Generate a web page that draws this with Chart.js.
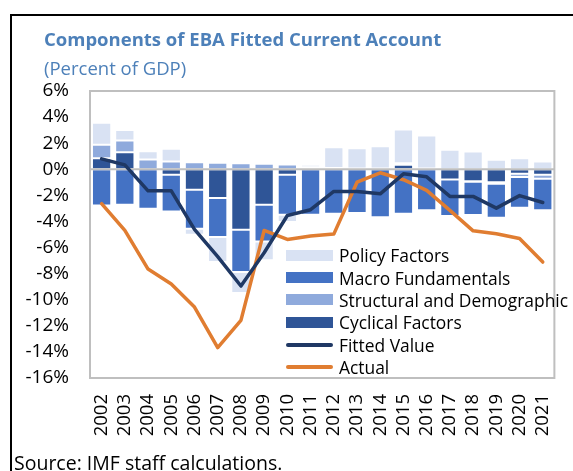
<!DOCTYPE html>
<html>
<head>
<meta charset="utf-8">
<script src="https://cdn.jsdelivr.net/npm/chart.js@4/dist/chart.umd.min.js"></script>
<style>
  body { margin: 0; width: 573px; height: 471px; overflow: hidden; background: #fff; font-family: 'Open Sans', sans-serif; }
  #frame { position: absolute; left: 10px; top: 14px; width: 600px; height: 500px; border-top: 2px solid #000; border-left: 2px solid #000; }
  #title { position: absolute; left: 44px; top: 28px; font-size: 18.5px; font-weight: 700; color: #4D80B9; white-space: nowrap; line-height: 1.2; }
  #subtitle { position: absolute; left: 44px; top: 57px; font-size: 18.5px; color: #4D80B9; white-space: nowrap; line-height: 1.2; }
  #source { position: absolute; left: 14px; top: 451px; font-size: 19.5px; color: #000; white-space: nowrap; line-height: 1.2; }
  #chart { position: absolute; left: 0; top: 0; }
  #legend { position: absolute; left: 286px; top: 244px; font-size: 17.4px; color: #000; }
  .row { height: 22.4px; display: flex; align-items: center; white-space: nowrap; }
  .sw { width: 47px; margin-right: 6px; }
</style>
</head>
<body>
<canvas id="chart" width="573" height="471"></canvas>
<div id="frame"></div>
<div id="title">Components of EBA Fitted Current Account</div>
<div id="subtitle">(Percent of GDP)</div>
<div id="legend"></div>
<div id="source">Source: IMF staff calculations.</div>
<script>
const years = ['2002','2003','2004','2005','2006','2007','2008','2009','2010','2011',
               '2012','2013','2014','2015','2016','2017','2018','2019','2020','2021'];

const cyclical   = [0.85, 1.31, 0, -0.42, -1.57, -2.21, -4.63, -2.72, -0.42, 0, 0, 0, 0, 0.34, 0, -0.78, -0.91, -0.99, -0.34, -0.42];
const structural = [1.03, 0.89, 0.75, 0.6, 0.54, 0.5, 0.47, 0.42, 0.37, 0.15, 0.1, 0.05, 0.05, 0.13, 0.05, 0, -0.05, -0.12, -0.26, -0.31];
const macro      = [-2.77, -2.72, -3.02, -2.81, -2.99, -2.99, -3.25, -2.81, -3.06, -3.48, -3.41, -3.36, -3.67, -3.41, -3.15, -2.81, -2.55, -2.6, -2.35, -2.42];
const policy     = [1.68, 0.82, 0.64, 0.97, -0.46, -1.91, -1.61, -1.45, -0.57, 0.2, 1.59, 1.57, 1.72, 2.58, 2.54, 1.49, 1.36, 0.73, 0.85, 0.6];
const fitted     = [0.8, 0.34, -1.65, -1.65, -4.6, -6.7, -8.95, -6.4, -3.54, -3.1, -1.7, -1.7, -1.88, -0.35, -0.58, -2.08, -2.08, -2.98, -2.02, -2.55];
const actual     = [-2.64, -4.69, -7.65, -8.8, -10.56, -13.67, -11.58, -4.69, -5.38, -5.12, -4.97, -0.99, -0.27, -0.8, -1.62, -3.15, -4.72, -4.94, -5.3, -7.11];

const yTicks = [6, 4, 2, 0, -2, -4, -6, -8, -10, -12, -14, -16];

// legend order as in the picture
const legendOrder = ['Policy Factors', 'Macro Fundamentals', 'Structural and Demographic', 'Cyclical Factors', 'Fitted Value', 'Actual'];

function barSet(label, data, color) {
    return {
        type: 'bar', label: label, data: data, backgroundColor: color,
        borderColor: 'rgba(255,255,255,0.85)', borderWidth: 1, borderSkipped: false,
        stack: 'bars', order: 1
    };
}
function lineSet(label, data, color) {
    return {
        type: 'line', label: label, data: data, borderColor: color, backgroundColor: color,
        borderWidth: 3.5, pointRadius: 0, tension: 0, borderJoinStyle: 'round', borderCapStyle: 'round',
        stack: label, order: 0
    };
}

// stacking goes outwards from zero in this order
const datasets = [
    barSet('Cyclical Factors', cyclical, '#2F5597'),
    barSet('Structural and Demographic', structural, '#8FAADC'),
    barSet('Macro Fundamentals', macro, '#4472C4'),
    barSet('Policy Factors', policy, '#D9E2F3'),
    lineSet('Fitted Value', fitted, '#1F3864'),
    lineSet('Actual', actual, '#E07D31')
];

// gray frame round the plot, zero line over the bars but under the lines
const plotLines = {
    id: 'plotLines',
    beforeDatasetsDraw(chart) {
        const a = chart.chartArea, ctx = chart.ctx;
        ctx.save();
        ctx.strokeStyle = '#BFBFBF';
        ctx.lineWidth = 2;
        ctx.strokeRect(a.left, a.top, a.right - a.left, a.bottom - a.top);
        ctx.restore();
    },
    afterDatasetDraw(chart, args) {
        if (args.index !== 0) return;
        const a = chart.chartArea, ctx = chart.ctx;
        const y0 = chart.scales.y.getPixelForValue(0);
        ctx.save();
        ctx.strokeStyle = '#BFBFBF';
        ctx.lineWidth = 2.2;
        ctx.beginPath();
        ctx.moveTo(a.left, y0);
        ctx.lineTo(a.right, y0);
        ctx.stroke();
        ctx.restore();
    }
};

Chart.defaults.font.family = "'Open Sans', sans-serif";
Chart.defaults.color = '#000';

new Chart(document.getElementById('chart'), {
    data: { labels: years, datasets: datasets },
    options: {
        responsive: false,
        animation: false,
        devicePixelRatio: 1,
        layout: { padding: { top: 91, right: 1, left: 0, bottom: 0 } },
        plugins: { legend: { display: false }, tooltip: { enabled: false } },
        datasets: { bar: { categoryPercentage: 1, barPercentage: 0.83 } },
        scales: {
            x: {
                stacked: true,
                grid: { display: false },
                border: { display: false },
                ticks: { autoSkip: false, minRotation: 90, maxRotation: 90, font: { size: 18.5 }, padding: 8 },
                afterFit(s) { s.height = 93; }
            },
            y: {
                stacked: true,
                min: -16, max: 6,
                afterBuildTicks(s) { s.ticks = yTicks.map(v => ({ value: v })); },
                grid: { display: false, drawTicks: false },
                border: { display: false },
                ticks: { font: { size: 19 }, padding: 21, callback: v => v + '%' },
                afterFit(s) { s.width = 90; }
            }
        }
    },
    plugins: [plotLines]
});

// legend drawn as html, inside the plot area
const legend = document.getElementById('legend');
legendOrder.forEach(name => {
    const ds = datasets.find(d => d.label === name);
    const row = document.createElement('div');
    row.className = 'row';
    const sw = document.createElement('div');
    sw.className = 'sw';
    if (ds.type === 'bar') {
        sw.style.height = '11px';
        sw.style.background = ds.backgroundColor;
    } else {
        sw.style.height = '3.5px';
        sw.style.borderRadius = '2px';
        sw.style.background = ds.borderColor;
    }
    const txt = document.createElement('span');
    txt.textContent = name;
    row.appendChild(sw);
    row.appendChild(txt);
    legend.appendChild(row);
});
</script>
</body>
</html>
